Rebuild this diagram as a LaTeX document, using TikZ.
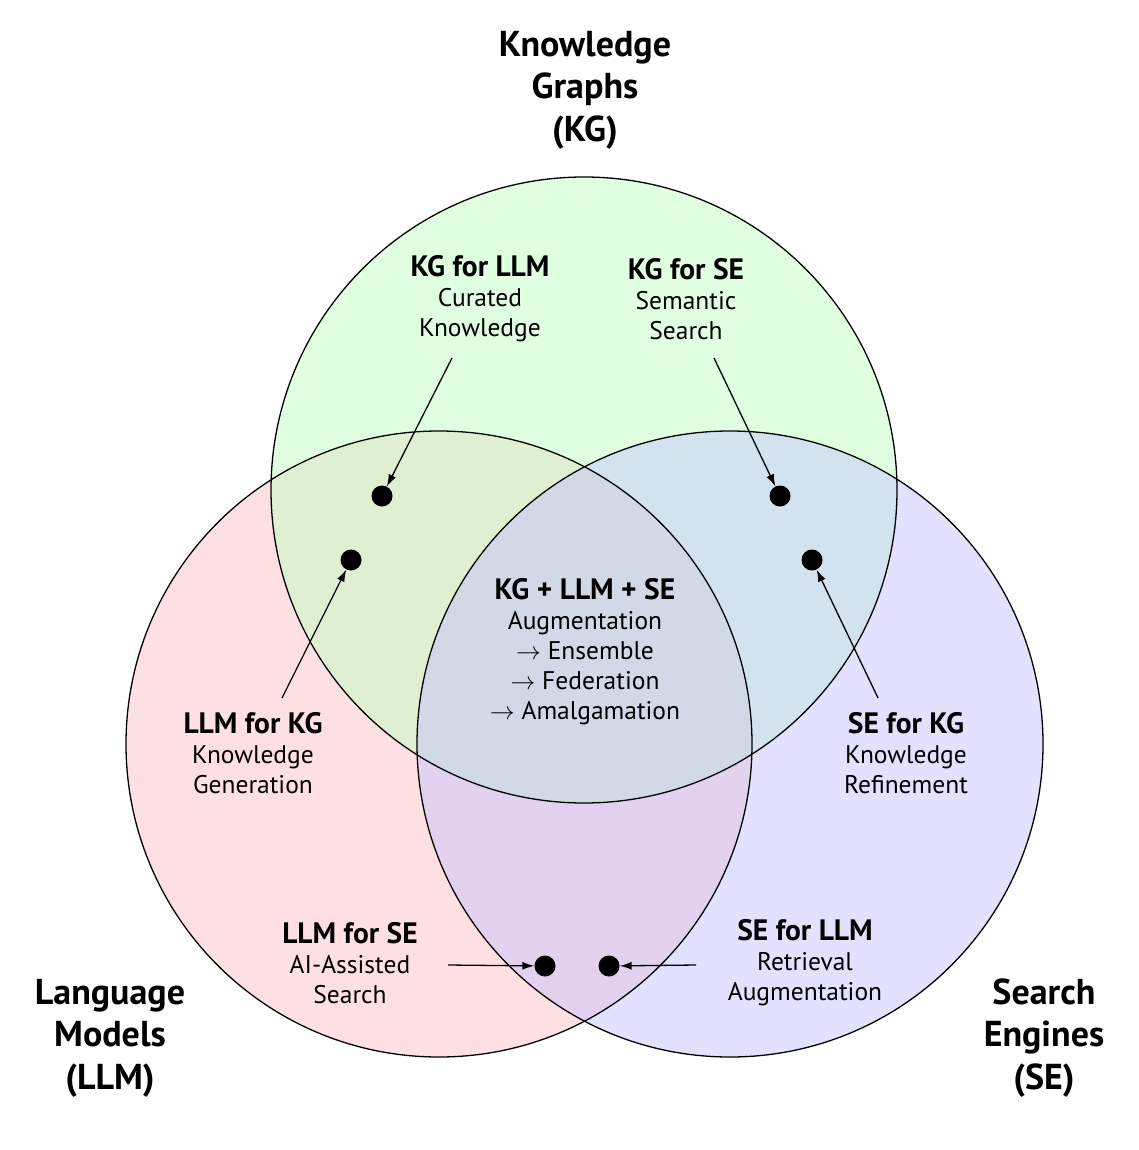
\documentclass[tikz,border=0pt]{standalone}
\usepackage{fontspec}
\setmainfont{PT Sans}
\usetikzlibrary{arrows.meta}
\definecolor{kgc}{RGB}{193,255,193}
\definecolor{llmc}{RGB}{255,193,197}
\definecolor{sec}{RGB}{197,197,255}
\newcommand{\hd}[1]{{\fontsize{29.5}{30}\selectfont\bfseries #1}}
\begin{document}
\begin{tikzpicture}[x=1pt,y=-1pt,
  venn/.style={fill opacity=0.5},
  ring/.style={draw=black,line width=1.3pt},
  title/.style={align=center,font=\fontsize{36}{42.5}\selectfont\bfseries},
  lbl/.style={align=center,font=\fontsize{25.5}{30}\selectfont},
  dot/.style={circle,fill=black,inner sep=0pt,minimum size=21pt},
  conn/.style={line width=1.3pt,-{Latex[length=12pt,width=8pt]}}]
\useasboundingbox (0,0) rectangle (1138,1150);
% fills
\fill[llmc,venn] (439,744) circle[radius=313];
\fill[kgc,venn] (584,490) circle[radius=313];
\fill[sec,venn] (730,744) circle[radius=313];
% outlines
\draw[ring] (439,744) circle[radius=313];
\draw[ring] (584,490) circle[radius=313];
\draw[ring] (730,744) circle[radius=313];
% titles
\node[title] (tkg) at (585,90) {Knowledge\\Graphs\\(KG)};
\node[title] (tllm) at (110,1038) {Language\\Models\\(LLM)};
\node[title] (tse) at (1044,1038) {Search\\Engines\\(SE)};
% labels
\node[lbl] (kgllm) at (480,299) {\hd{KG for LLM}\\Curated\\Knowledge};
\node[lbl] (kgse) at (686,299) {\hd{KG for SE}\\Semantic\\Search};
\node[lbl] (llmkg) at (253,753) {\hd{LLM for KG}\\Knowledge\\Generation};
\node[lbl] (sekg) at (906,753) {\hd{SE for KG}\\Knowledge\\Refinement};
\node[lbl] (all) at (585,652) {\hd{KG + LLM + SE}\\Augmentation\\$\rightarrow$ Ensemble\\$\rightarrow$ Federation\\$\rightarrow$ Amalgamation};
\node[lbl] (llmse) at (350,963) {\hd{LLM for SE}\\AI-Assisted\\Search};
\node[lbl] (sellm) at (805,963) {\hd{SE for LLM}\\Retrieval\\Augmentation};
% dots
\node[dot] (d1) at (382,496) {};
\node[dot] (d2) at (780,496) {};
\node[dot] (d3) at (351,560) {};
\node[dot] (d4) at (812,560) {};
\node[dot] (d5) at (545,966) {};
\node[dot] (d6) at (609,966) {};
% arrow starts
\coordinate (s1) at (452,358);
\coordinate (s2) at (714,358);
\coordinate (s3) at (282,698);
\coordinate (s4) at (878,698);
\coordinate (s5) at (448,965);
\coordinate (s6) at (696,965);
\draw[conn] (s1) -- (d1);
\draw[conn] (s2) -- (d2);
\draw[conn] (s3) -- (d3);
\draw[conn] (s4) -- (d4);
\draw[conn] (s5) -- (d5);
\draw[conn] (s6) -- (d6);
\end{tikzpicture}
\end{document}
